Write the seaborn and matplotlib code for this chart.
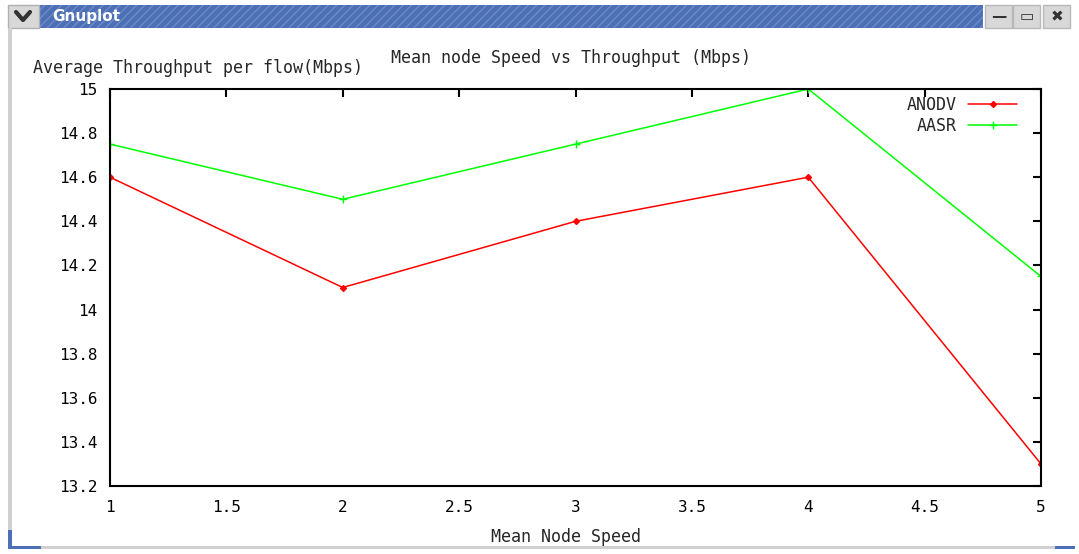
import pandas as pd
import seaborn as sns
import matplotlib.pyplot as plt
from matplotlib.patches import Rectangle
from matplotlib.ticker import FuncFormatter, MultipleLocator

speed = [1, 2, 3, 4, 5]
anodv = [14.6, 14.1, 14.4, 14.6, 13.3]
aasr = [14.75, 14.5, 14.75, 15.0, 14.15]

df = pd.DataFrame({
    "speed": speed * 2,
    "throughput": anodv + aasr,
    "protocol": ["ANODV"] * len(speed) + ["AASR"] * len(speed),
})

sns.set_style("white")
plt.rcParams["font.family"] = ["DejaVu Sans Mono"]

W, H = 1079, 554
fig = plt.figure(figsize=(W / 100, H / 100), dpi=100)
fig.patch.set_facecolor("white")

# window chrome (gnuplot x11 window)
chrome = fig.add_axes([0, 0, 1, 1])
chrome.set_xlim(0, W)
chrome.set_ylim(H, 0)
chrome.axis("off")
plt.rcParams["hatch.linewidth"] = 1.0
chrome.add_patch(Rectangle((40, 5), 943, 23, facecolor="#4c6fb5", edgecolor="#6d8bc8", hatch="////", lw=0))
chrome.add_patch(Rectangle((8, 5), 31, 23, facecolor="#d8d8d8", edgecolor="#b0b0b0", lw=1))
chrome.plot([16, 23, 30], [12, 20, 12], color="#333333", lw=3)
chrome.text(52, 17, "Gnuplot", color="white", fontsize=11, fontweight="bold",
            family="DejaVu Sans", va="center")
for x0, glyph in [(985, "\u2014"), (1013, "\u25ad"), (1043, "\u2716")]:
    chrome.add_patch(Rectangle((x0, 5), 27, 23, facecolor="#d8d8d8", edgecolor="#b8b8b8", lw=1))
    chrome.text(x0 + 14, 17, glyph, fontsize=11, fontweight="bold", color="#333333",
                family="DejaVu Sans", ha="center", va="center")
chrome.add_patch(Rectangle((8, 28), 4, 520, facecolor="#d0d0d0", lw=0))
chrome.add_patch(Rectangle((8, 546), 1067, 3, facecolor="#d0d0d0", lw=0))
chrome.add_patch(Rectangle((8, 530), 4, 19, facecolor="#4c6fb5", lw=0))
chrome.add_patch(Rectangle((8, 546), 33, 3, facecolor="#4c6fb5", lw=0))
chrome.add_patch(Rectangle((1055, 546), 20, 3, facecolor="#4c6fb5", lw=0))

ax = fig.add_axes([110 / W, 1 - 486 / H, (1041 - 110) / W, (486 - 89) / H])
styles = {"ANODV": ("#ff0000", "D", 3), "AASR": ("#00ff00", "+", 6)}
for name, (col, mk, ms) in styles.items():
    sns.lineplot(
        data=df[df["protocol"] == name], x="speed", y="throughput",
        color=col, marker=mk, markersize=ms, markeredgewidth=1, markeredgecolor=col,
        linewidth=1.1, label=name, ax=ax,
    )
ax.set_xlim(1, 5)
ax.set_ylim(13.2, 15)
ax.xaxis.set_major_locator(MultipleLocator(0.5))
ax.yaxis.set_major_locator(MultipleLocator(0.2))
fmt = FuncFormatter(lambda v, p: "%g" % round(v, 3))
ax.xaxis.set_major_formatter(fmt)
ax.yaxis.set_major_formatter(fmt)
ax.tick_params(direction="in", length=6, width=1.5, top=True, right=True,
               labelsize=11.5, colors="black", pad=10)
ax.tick_params(axis="y", pad=9)
for s in ax.spines.values():
    s.set_color("black")
    s.set_linewidth(1.5)
ax.set_xlabel("")
ax.set_ylabel("")

leg = ax.legend(loc="upper right", frameon=False, markerfirst=False, fontsize=12,
                handlelength=2.9, handletextpad=0.7, bbox_to_anchor=(0.99, 1.02),
                labelspacing=0.15)

fig.text(571 / W, 1 - 58 / H, "Mean node Speed vs Throughput (Mbps)", fontsize=12,
         ha="center", va="center")
fig.text(33 / W, 1 - 68 / H, "Average Throughput per flow(Mbps)", fontsize=12,
         ha="left", va="center")
fig.text(566 / W, 1 - 537 / H, "Mean Node Speed", fontsize=12, ha="center", va="center")

fig.savefig("out.png", dpi=100)
